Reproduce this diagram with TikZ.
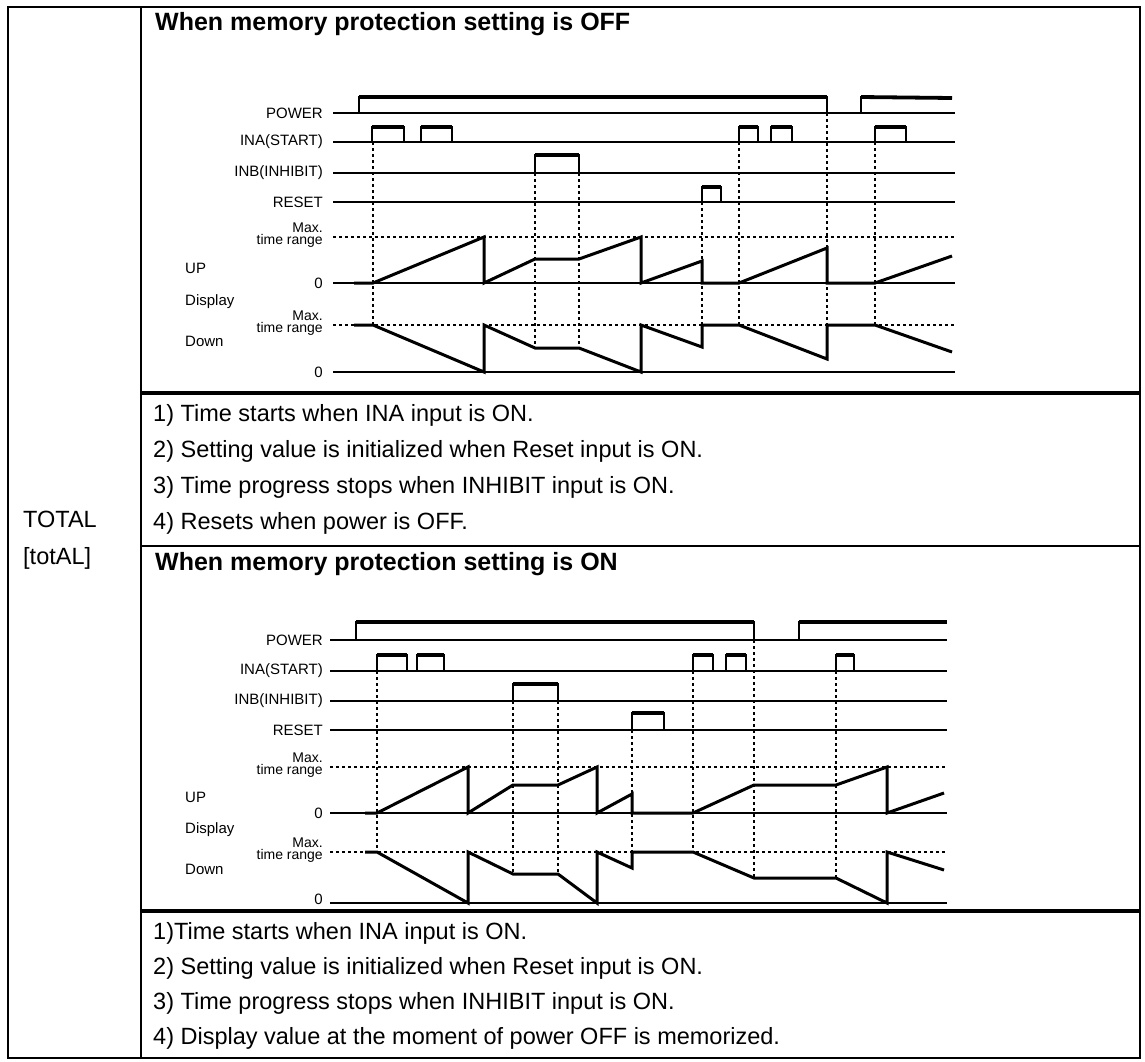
\documentclass[tikz,border=0pt]{standalone}
\usepackage{fontspec}
\setmainfont{Liberation Sans}
\tikzset{frame/.style={line width=1.6pt}, sep/.style={line width=3.5pt}, sig/.style={line width=1.2pt}, hi/.style={line width=3.8pt}, wave/.style={line width=3pt, line join=miter}, guide/.style={line width=1.3pt, dash pattern=on 3pt off 3pt}, lab/.style={font=\fontsize{15}{15}\selectfont, inner sep=0pt, anchor=east}, rng/.style={font=\fontsize{14}{12}\selectfont, inner sep=0pt, anchor=east, align=right}, side/.style={font=\fontsize{15}{15}\selectfont, inner sep=0pt, anchor=west}, note/.style={font=\fontsize{23.5}{24}\selectfont, inner sep=0pt, anchor=west}, ttl/.style={font=\bfseries\fontsize{25}{25}\selectfont, inner sep=0pt, anchor=west}}
\newcommand{\tpulse}[4]{\draw[sig] (#1,#3) -- (#1,#4) -- (#2,#4) -- (#2,#3); \draw[hi] (#1,#4) -- (#2,#4);}

\begin{document}
\begin{tikzpicture}[x=1pt,y=-1pt]
\useasboundingbox (0,0) rectangle (1145,1061);
% table
\draw[frame] (8,7) rectangle (1140,1058);
\draw[frame] (141,7) -- (141,1058);
\draw[sep] (141,393) -- (1140,393); \draw[frame] (141,546) -- (1140,546); \draw[sep] (141,911) -- (1140,911);
\node[note] (tot) at (23,519) {TOTAL};
\node[note] (totdisp) at (23,558) {[totAL]};
% memory protection OFF
\node[ttl] (ttloff) at (155,24) {When memory protection setting is OFF};
\foreach \y/\t [count=\i] in {113/POWER,142/INA(START),173/INB(INHIBIT),202/RESET,283/0,372/0} \node[lab] (la\i) at (323,\y) {\t};
\node[rng] (mxa1) at (323,235) {Max.\\time range}; \node[rng] (mxa2) at (323,323) {Max.\\time range};
\node[side] (upa) at (185,268) {UP}; \node[side] (dspa) at (185,302) {Display}; \node[side] (dna) at (185,341) {Down};
\foreach \y in {113,142,173,202,283,372} \draw[sig] (333,\y) -- (955,\y);
\draw[guide] (333,237) -- (955,237); \draw[guide] (333,325) -- (955,325);
\draw[sig] (359,113) -- (359,97) -- (827,97) -- (827,113); \draw[hi] (359,97) -- (827,97);
\draw[sig] (861,113) -- (861,97) -- (952,97); \draw[hi] (861,97) -- (952,98);
\tpulse{372}{404}{142}{127} \tpulse{421}{452}{142}{127} \tpulse{739}{758}{142}{127} \tpulse{771}{792}{142}{127} \tpulse{875}{906}{142}{127}
\tpulse{535}{579}{173}{155}
\tpulse{702}{721}{202}{187}
\draw[guide] (373,142) -- (373,325); \draw[guide] (535,173) -- (535,348); \draw[guide] (579,173) -- (579,348); \draw[guide] (702,202) -- (702,325);
\draw[guide] (739,142) -- (739,325); \draw[guide] (827,113) -- (827,325); \draw[guide] (875,142) -- (875,325);
\draw[wave] (354,283) -- (373,283) -- (484,237) -- (484,283) -- (535,259) -- (579,259) -- (641,237) -- (641,283) -- (702,261) -- (702,283) -- (739,283) -- (827,248) -- (827,283) -- (875,283) -- (952,256);
\draw[wave] (354,325) -- (373,325) -- (484,372) -- (484,325) -- (535,348) -- (579,348) -- (641,372) -- (641,325) -- (702,347) -- (702,325) -- (739,325) -- (827,359) -- (827,325) -- (875,325) -- (952,352);
\foreach \t [count=\i] in {1) Time starts when INA input is ON., 2) Setting value is initialized when Reset input is ON., 3) Time progress stops when INHIBIT input is ON., 4) Resets when power is OFF.} \node[note] (na\i) at (153,{415+36*(\i-1)}) {\t};
% memory protection ON
\node[ttl] (ttlon) at (155,564) {When memory protection setting is ON};
\foreach \y/\t [count=\i] in {640/POWER,671/INA(START),701/INB(INHIBIT),730/RESET,813/0,899/0} \node[lab] (lb\i) at (323,\y) {\t};
\node[rng] (mxb1) at (323,765) {Max.\\time range}; \node[rng] (mxb2) at (323,850) {Max.\\time range};
\node[side] (upb) at (185,797) {UP}; \node[side] (dspb) at (185,830) {Display}; \node[side] (dnb) at (185,869) {Down};
\foreach \y in {640,671,701,730,813,903} \draw[sig] (330,\y) -- (947,\y);
\draw[guide] (330,767) -- (947,767); \draw[guide] (330,852) -- (947,852);
\draw[sig] (356,640) -- (356,622) -- (754,622) -- (754,640); \draw[hi] (356,622) -- (754,622);
\draw[sig] (799,640) -- (799,622) -- (947,622); \draw[hi] (799,622) -- (947,622);
\tpulse{377}{407}{671}{655} \tpulse{417}{444}{671}{655} \tpulse{693}{713}{671}{655} \tpulse{726}{746}{671}{655} \tpulse{836}{854}{671}{655}
\tpulse{513}{558}{701}{684}
\tpulse{632}{664}{730}{713}
\draw[guide] (377,671) -- (377,852); \draw[guide] (513,701) -- (513,874); \draw[guide] (558,701) -- (558,874); \draw[guide] (632,730) -- (632,852);
\draw[guide] (693,671) -- (693,852); \draw[guide] (754,640) -- (754,878); \draw[guide] (836,671) -- (836,878);
\draw[wave] (365,813) -- (377,813) -- (468,767) -- (468,813) -- (513,785) -- (558,785) -- (597,767) -- (597,813) -- (632,794) -- (632,813) -- (693,813) -- (754,785) -- (836,785) -- (887,767) -- (887,813) -- (944,793);
\draw[wave] (365,852) -- (377,852) -- (468,903) -- (468,852) -- (513,874) -- (558,874) -- (597,903) -- (597,852) -- (632,868) -- (632,852) -- (693,852) -- (754,878) -- (836,878) -- (887,903) -- (887,852) -- (944,870);
\foreach \t [count=\i] in {1)Time starts when INA input is ON., 2) Setting value is initialized when Reset input is ON., 3) Time progress stops when INHIBIT input is ON., 4) Display value at the moment of power OFF is memorized.} \node[note] (nb\i) at (153,{933+35*(\i-1)}) {\t};
\end{tikzpicture}
\end{document}
